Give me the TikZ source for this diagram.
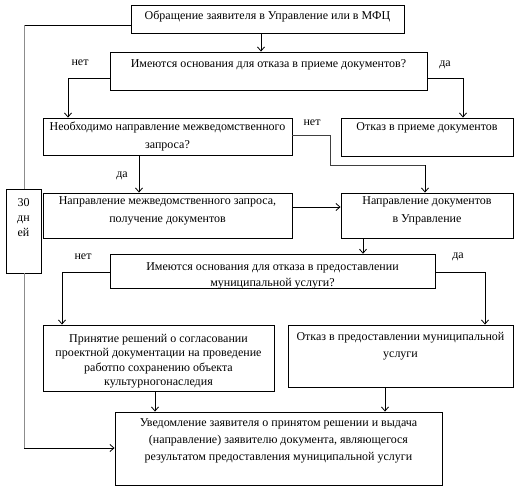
\documentclass[tikz,border=0pt]{standalone}
\usepackage{fontspec}
\setmainfont{Liberation Serif}
\usetikzlibrary{arrows.meta,calc}
\begin{document}
\begin{tikzpicture}[x=1pt,y=-1pt,
  txt/.style={font=\fontsize{12}{#1}\selectfont},
  txt/.default=17,
  box/.style={draw, line width=0.9pt, inner sep=0pt, align=center},
  lbl/.style={inner sep=0pt, txt},
  arr/.style={line width=0.8pt, -{Straight Barb[length=4pt,width=7pt]}},
  ln/.style={line width=0.8pt},
  gln/.style={line width=1pt, draw=black!45},
  thin/.style={line width=0.7pt, draw=black!75}]
\useasboundingbox (0,0) rectangle (530,496);
% boxes
\node[box, txt, minimum width=273, minimum height=28, text depth=7.6] (b1) at (267.5,19) {Обращение заявителя в Управление или в МФЦ};
\node[box, txt, minimum width=317, minimum height=38, text depth=14.6] (b2) at (268.5,71) {Имеются основания для отказа в приеме документов?};
\node[box, txt=18, minimum width=249, minimum height=37] (b3) at (167.5,136.5) {Необходимо направление межведомственного\\запроса?};
\node[box, txt, minimum width=172, minimum height=38, text depth=20.6] (b4) at (427,137) {Отказ в приеме документов};
\node[box, txt=18, minimum width=249, minimum height=45, text depth=11.6] (b5) at (167.5,215.5) {Направление межведомственного запроса,\\получение документов};
\node[box, txt=18, minimum width=172, minimum height=45, text depth=11.6] (b6) at (427,215.5) {Направление документов\\в Управление};
\node[box, txt=15, minimum width=35, minimum height=84, text depth=26.6] (b30) at (23.5,231) {30\\дн\\ей};
\node[box, txt=16, minimum width=325, minimum height=33, text height=32] (b7) at (272.5,271.5) {Имеются основания для отказа в предоставлении\\муниципальной услуги?};
\node[box, txt=14.5, minimum width=231, minimum height=66, text height=58] (b8) at (158.5,358) {Принятие решений о согласовании\\проектной документации на проведение\\работпо сохранению объекта\\культурногонаследия};
\node[box, txt, minimum width=225, minimum height=62, text depth=21.6] (b9) at (400.5,356) {Отказ в предоставлении муниципальной\\услуги};
\node[box, txt, minimum width=327, minimum height=73, text depth=17.6] (b10) at (278.5,448.5) {Уведомление заявителя о принятом решении и выдача\\(направление) заявителю документа, являющегося\\результатом предоставления муниципальной услуги};
% labels
\node[lbl] (l1) at (80,63) {нет};
\node[lbl] (l2) at (445,65) {да};
\node[lbl] (l3) at (312,123) {нет};
\node[lbl] (l4) at (122,176) {да};
\node[lbl] (l5) at (83,257) {нет};
\node[lbl] (l6) at (458,257) {да};
% helper coordinates
\coordinate (p1) at (24,25);
\coordinate (p2) at (24,448);
\coordinate (a1) at (261,0);
\coordinate (k1) at (68,78);
\coordinate (k2) at (463,78);
\coordinate (a2) at (139,0);
\coordinate (k3) at (330,135);
\coordinate (k4) at (425,165);
\coordinate (a3) at (0,207);
\coordinate (a4) at (363,0);
\coordinate (k5) at (62,272);
\coordinate (k6) at (485,272);
\coordinate (a5) at (155,0);
\coordinate (a6) at (385,0);
% connectors
\draw[ln] (b1.west |- p1) -- (p1);
\draw[gln] (p1) -- (b30.north -| p1);
\draw[gln] (b30.south -| p2) -- (p2);
\draw[arr] (p2) -- (b10.west |- p2);
\draw[arr] (b1.south -| a1) -- (b2.north -| a1);
\draw[arr] (b2.west |- k1) -| (b3.north -| k1);
\draw[arr] (b2.east |- k2) -| (b4.north -| k2);
\draw[arr] (b3.south -| a2) -- (b5.north -| a2);
\draw[thin] (b3.east |- k3) -| (k3 |- k4);
\draw[thin] (k3 |- k4) -- (k4);
\draw[arr] (k4) -- (b6.north -| k4);
\draw[arr] (b5.east |- a3) -- (b6.west |- a3);
\draw[arr] (b6.south -| a4) -- (b7.north -| a4);
\draw[arr] (b7.west |- k5) -| (b8.north -| k5);
\draw[arr] (b7.east |- k6) -| (b9.north -| k6);
\draw[arr] (b8.south -| a5) -- (b10.north -| a5);
\draw[arr] (b9.south -| a6) -- (b10.north -| a6);
\end{tikzpicture}
\end{document}
